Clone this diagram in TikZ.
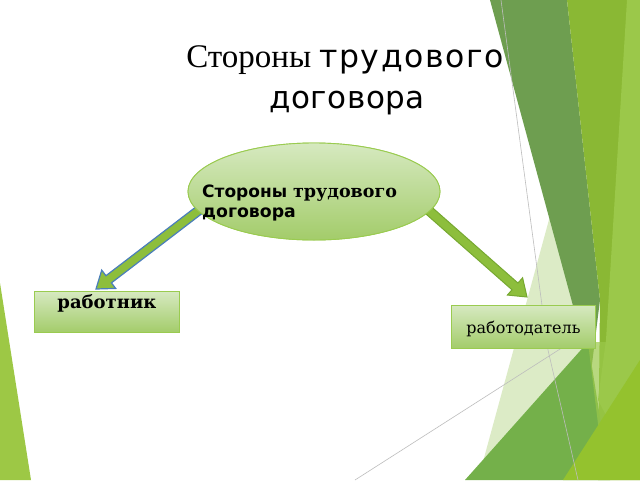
\documentclass[tikz,border=0pt]{standalone}
\usepackage{fontspec}
\setmainfont{DejaVu Serif}
\newfontfamily\titleserif{Liberation Serif}
\newfontfamily\titlesans[LetterSpace=2]{DejaVu Sans}
\newfontfamily\titlesanswide[LetterSpace=5]{DejaVu Sans}
\newfontfamily\dvsans{DejaVu Sans}
\newfontfamily\dvserif{DejaVu Serif}
\usetikzlibrary{shapes.geometric,calc}
\definecolor{darkband}{HTML}{6E9E50}
\definecolor{oliveband}{HTML}{8AB834}
\definecolor{brightband}{HTML}{9BC84A}
\definecolor{medgreen}{HTML}{74B04A}
\definecolor{palegreen}{HTML}{DCEBC6}
\definecolor{botlime}{HTML}{94C22E}
\definecolor{lefttri}{HTML}{9DC845}
\definecolor{shapetop}{HTML}{D6E9C0}
\definecolor{shapebot}{HTML}{A3CC6A}
\definecolor{shapeline}{HTML}{9ACB50}
\definecolor{arrowfill}{HTML}{8DBE3C}
\definecolor{arrowblue}{HTML}{4A7EBB}
\definecolor{arrowgreen}{HTML}{76A830}
\definecolor{thinline}{HTML}{BDBDBD}
\newcommand{\myblockarrow}[3]{%
  \coordinate (hb) at ($(#2)!16pt!(#1)$);
  \draw[#3] ($(#1)!4.5pt!90:(#2)$) -- ($(hb)!4.5pt!90:(#2)$) -- ($(hb)!11.5pt!90:(#2)$)
    -- (#2) -- ($(hb)!11.5pt!-90:(#2)$) -- ($(hb)!4.5pt!-90:(#2)$) -- ($(#1)!4.5pt!-90:(#2)$) -- cycle;
}
\tikzset{
  greenshape/.style={draw=shapeline, line width=0.9pt, top color=shapetop, bottom color=shapebot},
  boxshape/.style={greenshape, rectangle, inner sep=0pt},
  leftarrow/.style={fill=arrowfill, draw=arrowblue, line width=1.2pt, line join=miter},
  rightarrow/.style={fill=arrowfill, draw=arrowgreen, line width=1pt, line join=miter},
  lbl/.style={anchor=base, inner sep=0pt},
}
\begin{document}
\begin{tikzpicture}[x=1pt, y=-1pt]
\useasboundingbox (0,0) rectangle (640,480);
\fill[white] (0,0) rectangle (640,480);
% background facets
\fill[palegreen] (553,205) -- (592,340) -- (478,480) -- cycle;
\fill[darkband] (490,0) -- (567,0) -- (600,300) -- (591,372) -- cycle;
\fill[oliveband] (567,0) -- (640,0) -- (640,480) -- (598,480) -- (600,300) -- cycle;
\fill[brightband] (627,0) -- (640,0) -- (640,480) -- (598,400) -- (606,340) -- cycle;
\fill[medgreen] (465,480) -- (588,342) -- (610,480) -- cycle;
\fill[brightband, opacity=0.7] (588,342) -- (622,342) -- (600,440) -- cycle;
\fill[botlime] (563,480) -- (640,360) -- (640,480) -- cycle;
\draw[thinline, line width=0.6pt] (501,0) -- (548,350) -- (578,480);
\draw[thinline, line width=0.6pt] (355,480) -- (582,335);
\fill[lefttri] (0,283) -- (31,480) -- (0,480) -- cycle;
% title
\node[lbl] (title1) at (345,67) {\titleserif\fontsize{33}{38}\selectfont Стороны \titlesanswide\fontsize{31.5}{36}\selectfont трудового};
\node[lbl] (title2) at (347,108) {\titlesans\fontsize{31}{36}\selectfont договора};
% shapes
\node[greenshape, ellipse, minimum width=252, minimum height=97, inner sep=0pt] (ell) at (314,191.5) {};
\node[boxshape, minimum width=145, minimum height=41, anchor=north west] (worker) at (34,291) {};
\node[boxshape, minimum width=144, minimum height=43, anchor=north west] (employer) at (451,305) {};
\coordinate (workertip) at (96,289);
\coordinate (employertip) at (527,297);
\coordinate (lstart) at ($(ell.188)!8pt!(ell.center)$);
\coordinate (rstart) at ($(ell.-8)!8pt!(ell.center)$);
\myblockarrow{lstart}{workertip}{leftarrow}
\myblockarrow{rstart}{employertip}{rightarrow}
% redraw ellipse over arrow starts
\node[greenshape, ellipse, minimum width=252, minimum height=97, inner sep=0pt] (ell2) at (ell.center) {};
\node[anchor=base west, inner sep=0pt] (elltext1) at (202,197) {\fontsize{17}{20}\selectfont\bfseries\dvsans Стороны \dvserif\fontsize{17.5}{20}\selectfont трудового};
\node[anchor=base west, inner sep=0pt] (elltext2) at (202,217) {\fontsize{17.3}{20}\selectfont\bfseries\dvsans договора};
\node[lbl] (workerlbl) at ($(worker.north)+(0,17)$) {\fontsize{18}{21}\selectfont\bfseries работник};
\node[lbl] (employerlbl) at ($(employer.north)+(0,28)$) {\fontsize{16}{19}\selectfont работодатель};
\end{tikzpicture}
\end{document}
